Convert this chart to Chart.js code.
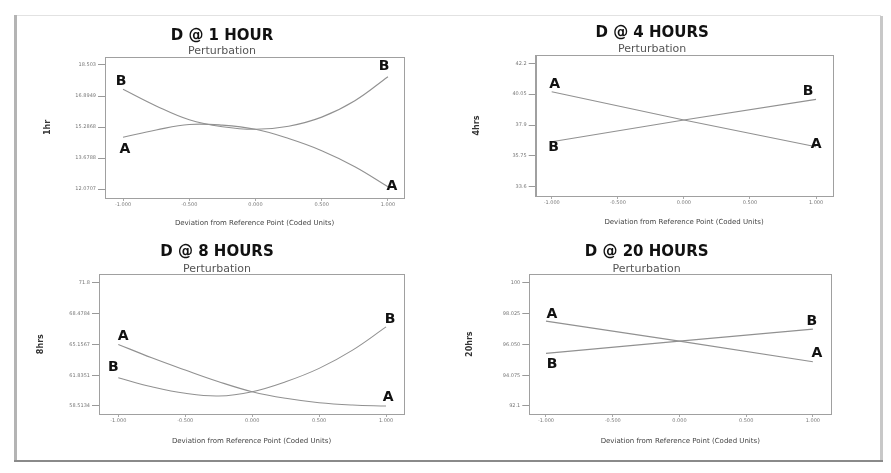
<!DOCTYPE html>
<html>
<head>
<meta charset="utf-8">
<script src="https://cdn.jsdelivr.net/npm/chart.js@4"></script>
<style>
  html, body { margin: 0; padding: 0; background: #fff; overflow: hidden; }
  body { width: 891px; height: 473px; position: relative; }
  canvas { position: absolute; }
  .marco { position: absolute; }
</style>
</head>
<body>
<!-- marco gris de la figura -->
<div class="marco" style="left:14px;top:15px;width:867px;height:1px;background:#e2e2e2"></div>
<div class="marco" style="left:14px;top:15px;width:3px;height:447px;background:#b4b4b4"></div>
<div class="marco" style="left:880px;top:16px;width:3px;height:446px;background:#c8c8c8"></div>
<div class="marco" style="left:14px;top:460px;width:869px;height:2px;background:#8a8a8a"></div>

<canvas id="g1" width="430" height="220" style="left:40px;top:18px"></canvas>
<canvas id="g2" width="419" height="221" style="left:472px;top:15px"></canvas>
<canvas id="g3" width="440" height="220" style="left:30px;top:234px"></canvas>
<canvas id="g4" width="419" height="220" style="left:462px;top:234px"></canvas>

<script>
// Datos
var xCurva = [-1, -0.75, -0.5, -0.25, 0, 0.25, 0.5, 0.75, 1];
var xRecta = [-1, 0, 1];
var xTicks = [-1, -0.5, 0, 0.5, 1];
var xTickLabels = ['-1.000', '-0.500', '0.000', '0.500', '1.000'];

// D @ 1 HOUR
var hr1A = [14.753, 15.131, 15.420, 15.385, 15.168, 14.690, 14.060, 13.230, 12.190];
var hr1B = [17.243, 16.380, 15.660, 15.300, 15.168, 15.330, 15.800, 16.650, 17.896];
var hr1Ticks = [12.0707, 13.6788, 15.2869, 16.8950, 18.5031];
var hr1TickLabels = ['12.0707', '13.6788', '15.2868', '16.8949', '18.503'];

// D @ 4 HOURS
var hr4A = [40.22, 38.25, 36.39];
var hr4B = [36.74, 38.25, 39.69];
var hr4Ticks = [33.6, 35.75, 37.9, 40.05, 42.2];
var hr4TickLabels = ['33.6', '35.75', '37.9', '40.05', '42.2'];

// D @ 8 HOURS
var hr8A = [65.161, 63.717, 62.392, 61.131, 60.054, 59.343, 58.869, 58.621, 58.513];
var hr8B = [61.562, 60.593, 59.882, 59.591, 60.054, 61.131, 62.575, 64.547, 67.057];
var hr8Ticks = [58.5134, 61.8351, 65.1567, 68.4784, 71.8];
var hr8TickLabels = ['58.5134', '61.8351', '65.1567', '68.4784', '71.8'];

// D @ 20 HOURS
var hr20A = [97.545, 96.264, 94.938];
var hr20B = [95.476, 96.264, 97.033];
var hr20Ticks = [92.1, 94.075, 96.05, 98.025, 100];
var hr20TickLabels = ['92.1', '94.075', '96.050', '98.025', '100'];

// Une x e y en puntos {x, y}
function puntos(xs, ys) {
    return xs.map(function (x, i) { return { x: x, y: ys[i] }; });
}

// Dibuja el recuadro del area de trazado
var recuadroPlugin = {
    id: 'recuadro',
    beforeDatasetsDraw: function (chart) {
        var a = chart.chartArea;
        var ctx = chart.ctx;
        ctx.save();
        ctx.strokeStyle = '#a0a0a0';
        ctx.lineWidth = 1;
        ctx.strokeRect(Math.round(a.left) + 0.5, Math.round(a.top) + 0.5,
            Math.round(a.right - a.left), Math.round(a.bottom - a.top));
        ctx.restore();
    }
};

// Letras A / B en los extremos de cada curva
var letrasPlugin = {
    id: 'letras',
    afterDatasetsDraw: function (chart, args, opts) {
        var ctx = chart.ctx;
        ctx.save();
        ctx.font = 'bold 14px "DejaVu Sans"';
        ctx.fillStyle = '#111';
        ctx.textAlign = 'center';
        ctx.textBaseline = 'middle';
        (opts.items || []).forEach(function (it) {
            var ds = chart.data.datasets[it.ds];
            var p = it.fin ? ds.data[ds.data.length - 1] : ds.data[0];
            var px = chart.scales.x.getPixelForValue(p.x) + it.dx;
            var py = chart.scales.y.getPixelForValue(p.y) + it.dy;
            ctx.fillText(ds.label, px, py);
        });
        ctx.restore();
    }
};

function crearGrafica(id, cfg) {
    var ctx = document.getElementById(id).getContext('2d');
    var d = cfg.yTicks[1] - cfg.yTicks[0];
    return new Chart(ctx, {
        type: 'line',
        data: {
            datasets: [{
                label: 'A',
                data: puntos(cfg.xs, cfg.serieA),
                borderColor: '#919191',
                borderWidth: 1.1,
                pointRadius: 0,
                tension: cfg.tension,
                fill: false
            }, {
                label: 'B',
                data: puntos(cfg.xs, cfg.serieB),
                borderColor: '#919191',
                borderWidth: 1.1,
                pointRadius: 0,
                tension: cfg.tension,
                fill: false
            }]
        },
        options: {
            responsive: false,
            animation: false,
            layout: { padding: { left: 0, right: cfg.padRight, top: 0, bottom: 0 } },
            plugins: {
                legend: { display: false },
                tooltip: { enabled: false },
                title: {
                    display: true,
                    text: cfg.titulo,
                    color: '#111',
                    font: { family: 'DejaVu Sans', size: 15, weight: 'bold', lineHeight: 1 },
                    padding: { top: 10.5, bottom: 0 }
                },
                subtitle: {
                    display: true,
                    text: 'Perturbation',
                    color: '#555',
                    font: { family: 'DejaVu Sans', size: 11, lineHeight: 1 },
                    padding: { top: cfg.subPadTop, bottom: 0 }
                },
                letras: { items: cfg.letras }
            },
            scales: {
                x: {
                    type: 'linear',
                    position: 'bottom',
                    min: cfg.xMin,
                    max: cfg.xMax,
                    afterBuildTicks: function (s) {
                        s.ticks = xTicks.map(function (v) { return { value: v }; });
                    },
                    afterFit: function (s) { s.height = 40; },
                    grid: { drawOnChartArea: false, tickLength: 3, color: '#aaa' },
                    border: { display: true, color: '#a0a0a0' },
                    ticks: {
                        autoSkip: false,
                        maxRotation: 0,
                        padding: 1,
                        color: '#777',
                        font: { family: 'DejaVu Sans', size: 5 },
                        callback: function (v, i) { return xTickLabels[i]; }
                    },
                    title: {
                        display: true,
                        text: 'Deviation from Reference Point (Coded Units)',
                        color: '#444',
                        font: { family: 'DejaVu Sans', size: 7 },
                        padding: { top: 0, bottom: cfg.xTitlePad }
                    }
                },
                y: {
                    type: 'linear',
                    min: cfg.yTicks[0] - cfg.yPadLow * d,
                    max: cfg.yTicks[4] + cfg.yPadHigh * d,
                    afterBuildTicks: function (s) {
                        s.ticks = cfg.yTicks.map(function (v) { return { value: v }; });
                    },
                    afterFit: function (s) { s.width = cfg.yAxisW; },
                    grid: { drawOnChartArea: false, tickLength: 7, color: '#999' },
                    border: { display: true, color: '#a0a0a0' },
                    ticks: {
                        autoSkip: false,
                        padding: 2,
                        color: '#777',
                        font: { family: 'DejaVu Sans', size: 5 },
                        callback: function (v, i) { return cfg.yTickLabels[i]; }
                    },
                    title: {
                        display: true,
                        text: cfg.yTitulo,
                        color: '#333',
                        font: { family: 'DejaVu Sans', size: 8, weight: 'bold' },
                        padding: { top: cfg.yTitlePad, bottom: 0 }
                    }
                }
            }
        },
        plugins: [recuadroPlugin, letrasPlugin]
    });
}

crearGrafica('g1', {
    titulo: 'D @ 1 HOUR', yTitulo: '1hr',
    xs: xCurva, serieA: hr1A, serieB: hr1B, tension: 0.4,
    yTicks: hr1Ticks, yTickLabels: hr1TickLabels,
    xMin: -1.136, xMax: 1.121, yPadLow: 0.29, yPadHigh: 0.258,
    yAxisW: 65, padRight: 66, subPadTop: 2.5, xTitlePad: 10.2, yTitlePad: 3.2,
    letras: [
        { ds: 1, fin: false, dx: -2, dy: -8 },
        { ds: 0, fin: false, dx: 2, dy: 12 },
        { ds: 1, fin: true, dx: -4, dy: -10 },
        { ds: 0, fin: true, dx: 4, dy: 0 }
    ]
});

crearGrafica('g2', {
    titulo: 'D @ 4 HOURS', yTitulo: '4hrs',
    xs: xRecta, serieA: hr4A, serieB: hr4B, tension: 0,
    yTicks: hr4Ticks, yTickLabels: hr4TickLabels,
    xMin: -1.121, xMax: 1.123, yPadLow: 0.30, yPadHigh: 0.27,
    yAxisW: 63.7, padRight: 58.7, subPadTop: 3.5, xTitlePad: 9.5, yTitlePad: 0,
    letras: [
        { ds: 0, fin: false, dx: 3, dy: -7 },
        { ds: 1, fin: false, dx: 2, dy: 6 },
        { ds: 1, fin: true, dx: -8, dy: -8 },
        { ds: 0, fin: true, dx: 0, dy: -2 }
    ]
});

crearGrafica('g3', {
    titulo: 'D @ 8 HOURS', yTitulo: '8hrs',
    xs: xCurva, serieA: hr8A, serieB: hr8B, tension: 0.4,
    yTicks: hr8Ticks, yTickLabels: hr8TickLabels,
    xMin: -1.144, xMax: 1.134, yPadLow: 0.26, yPadHigh: 0.28,
    yAxisW: 69, padRight: 66, subPadTop: 3.8, xTitlePad: 8.2, yTitlePad: 5.9,
    letras: [
        { ds: 0, fin: false, dx: 5, dy: -8 },
        { ds: 1, fin: false, dx: -5, dy: -10 },
        { ds: 1, fin: true, dx: 4, dy: -7 },
        { ds: 0, fin: true, dx: 2, dy: -9 }
    ]
});

crearGrafica('g4', {
    titulo: 'D @ 20 HOURS', yTitulo: '20hrs',
    xs: xRecta, serieA: hr20A, serieB: hr20B, tension: 0,
    yTicks: hr20Ticks, yTickLabels: hr20TickLabels,
    xMin: -1.125, xMax: 1.138, yPadLow: 0.26, yPadHigh: 0.28,
    yAxisW: 67.3, padRight: 49.7, subPadTop: 3.8, xTitlePad: 8.2, yTitlePad: 3.2,
    letras: [
        { ds: 0, fin: false, dx: 6, dy: -7 },
        { ds: 1, fin: false, dx: 6, dy: 11 },
        { ds: 1, fin: true, dx: -1, dy: -8 },
        { ds: 0, fin: true, dx: 4, dy: -8 }
    ]
});
</script>
</body>
</html>
